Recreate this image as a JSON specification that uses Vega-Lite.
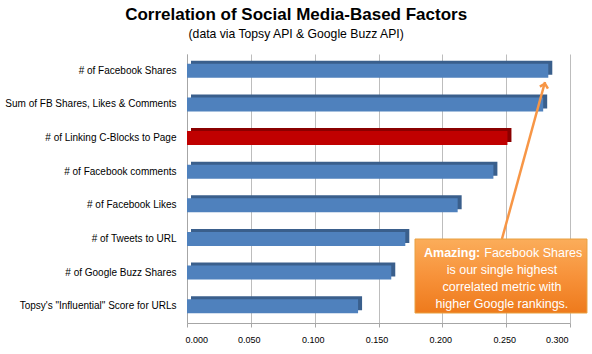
{
  "$schema": "https://vega.github.io/schema/vega-lite/v6.json",
  "autosize": {"type": "none"},
  "width": 383,
  "height": 269,
  "padding": {"left": 187, "top": 54, "right": 22, "bottom": 31},
  "background": "white",
  "title": {
    "text": "Correlation of Social Media-Based Factors",
    "subtitle": "(data via Topsy API & Google Buzz API)",
    "anchor": "middle",
    "frame": "bounds",
    "font": "Liberation Sans",
    "fontSize": 17,
    "fontWeight": "bold",
    "color": "black",
    "subtitleFont": "Liberation Sans",
    "subtitleFontSize": 12.2,
    "subtitleColor": "black",
    "subtitlePadding": 4,
    "offset": 13,
    "dx": 0
  },
  "config": {"view": {"stroke": null}},
  "resolve": {"scale": {"y": "independent"}},
  "layer": [
    {
      "data": {
        "values": [
          {"factor": "# of Facebook Shares", "value": 0.283},
          {"factor": "Sum of FB Shares, Likes & Comments", "value": 0.279},
          {"factor": "# of Linking C-Blocks to Page", "value": 0.251},
          {"factor": "# of Facebook comments", "value": 0.240},
          {"factor": "# of Facebook Likes", "value": 0.212},
          {"factor": "# of Tweets to URL", "value": 0.171},
          {"factor": "# of Google Buzz Shares", "value": 0.160},
          {"factor": "Topsy's \"Influential\" Score for URLs", "value": 0.134}
        ]
      },
      "encoding": {
        "y": {
          "field": "factor",
          "type": "nominal",
          "sort": null,
          "axis": {
            "title": null,
            "labelFont": "Liberation Sans",
            "labelFontSize": 10,
            "labelColor": "black",
            "labelPadding": 11,
            "labelLimit": 220,
            "ticks": false,
            "domainColor": "#a6a6a6"
          }
        },
        "x": {
          "field": "value",
          "type": "quantitative",
          "scale": {"domain": [0, 0.3], "nice": false, "zero": true},
          "axis": {
            "title": null,
            "format": ".3f",
            "values": [0, 0.05, 0.1, 0.15, 0.2, 0.25, 0.3],
            "labelFont": "Liberation Sans",
            "labelFontSize": 9,
            "labelColor": "black",
            "labelPadding": 8,
            "labelOffset": -2,
            "tickColor": "#a6a6a6",
            "tickSize": 4,
            "domainColor": "#a6a6a6",
            "gridColor": "#bdbdbd"
          }
        }
      },
      "layer": [
        {
          "mark": {"type": "bar", "size": 14, "xOffset": 4, "yOffset": -3},
          "encoding": {
            "color": {
              "condition": {"test": "datum.factor === '# of Linking C-Blocks to Page'", "value": "#8a0000"},
              "value": "#3a5f8c"
            }
          }
        },
        {
          "mark": {"type": "bar", "size": 14},
          "encoding": {
            "color": {
              "condition": {"test": "datum.factor === '# of Linking C-Blocks to Page'", "value": "#c00000"},
              "value": "#4f81bd"
            }
          }
        }
      ]
    },
    {
      "layer": [
        {
          "data": {"values": [{"x1": 0.2467, "y1": 2.498, "x2": 0.2804, "y2": 7.167}]},
          "mark": {"type": "rule", "color": "#f79646", "strokeWidth": 2.5},
          "encoding": {
            "x": {"field": "x1", "type": "quantitative", "scale": {"domain": [0, 0.3], "nice": false}},
            "x2": {"field": "x2"},
            "y": {"field": "y1", "type": "quantitative", "scale": {"domain": [0, 8], "nice": false}, "axis": null},
            "y2": {"field": "y2"}
          }
        },
        {
          "data": {"values": [{"x": 0.2804, "y": 7.12}]},
          "mark": {"type": "point", "shape": "M -1 1 L 0 0 L 1 1", "filled": false, "size": 70, "strokeWidth": 2.5, "color": "#f79646", "angle": 15, "opacity": 1},
          "encoding": {
            "x": {"field": "x", "type": "quantitative", "scale": {"domain": [0, 0.3], "nice": false}},
            "y": {"field": "y", "type": "quantitative", "scale": {"domain": [0, 8], "nice": false}, "axis": null}
          }
        },
        {
          "data": {"values": [{"x1": 0.1786, "x2": 0.3133, "y1": 2.498, "y2": 0.297}]},
          "mark": {"type": "rect", "xOffset": 3, "yOffset": 3, "color": "#808080", "opacity": 0.45},
          "encoding": {
            "x": {"field": "x1", "type": "quantitative", "scale": {"domain": [0, 0.3], "nice": false}},
            "x2": {"field": "x2"},
            "y": {"field": "y1", "type": "quantitative", "scale": {"domain": [0, 8], "nice": false}, "axis": null},
            "y2": {"field": "y2"}
          }
        },
        {
          "data": {"values": [{"x1": 0.1786, "x2": 0.3133, "y1": 2.498, "y2": 0.297}]},
          "mark": {
            "type": "rect",
            "stroke": "#e8a040",
            "strokeWidth": 1,
            "fill": {
              "gradient": "linear", "x1": 0, "y1": 0, "x2": 0, "y2": 1,
              "stops": [
                {"offset": 0, "color": "#fbad5a"},
                {"offset": 0.5, "color": "#f7923a"},
                {"offset": 1, "color": "#ee7a1c"}
              ]
            }
          },
          "encoding": {
            "x": {"field": "x1", "type": "quantitative", "scale": {"domain": [0, 0.3], "nice": false}},
            "x2": {"field": "x2"},
            "y": {"field": "y1", "type": "quantitative", "scale": {"domain": [0, 8], "nice": false}, "axis": null},
            "y2": {"field": "y2"}
          }
        },
        {
          "data": {"values": [{"t": "Amazing:", "x": 0.2305, "y": 2.082}]},
          "mark": {"type": "text", "align": "right", "baseline": "middle", "dx": -1, "font": "Liberation Sans", "fontSize": 12.5, "fontWeight": "bold", "color": "white"},
          "encoding": {
            "text": {"field": "t"},
            "x": {"field": "x", "type": "quantitative", "scale": {"domain": [0, 0.3], "nice": false}},
            "y": {"field": "y", "type": "quantitative", "scale": {"domain": [0, 8], "nice": false}, "axis": null}
          }
        },
        {
          "data": {"values": [{"t": "Facebook Shares", "x": 0.2305, "y": 2.082}]},
          "mark": {"type": "text", "align": "left", "baseline": "middle", "dx": 3, "font": "Liberation Sans", "fontSize": 12.5, "color": "white"},
          "encoding": {
            "text": {"field": "t"},
            "x": {"field": "x", "type": "quantitative", "scale": {"domain": [0, 0.3], "nice": false}},
            "y": {"field": "y", "type": "quantitative", "scale": {"domain": [0, 8], "nice": false}, "axis": null}
          }
        },
        {
          "data": {
            "values": [
              {"t": "is our single highest", "x": 0.2467, "y": 1.576},
              {"t": "correlated metric with", "x": 0.2467, "y": 1.071},
              {"t": "higher Google rankings.", "x": 0.2467, "y": 0.565}
            ]
          },
          "mark": {"type": "text", "align": "center", "baseline": "middle", "font": "Liberation Sans", "fontSize": 12.5, "color": "white"},
          "encoding": {
            "text": {"field": "t"},
            "x": {"field": "x", "type": "quantitative", "scale": {"domain": [0, 0.3], "nice": false}},
            "y": {"field": "y", "type": "quantitative", "scale": {"domain": [0, 8], "nice": false}, "axis": null}
          }
        }
      ]
    }
  ]
}
